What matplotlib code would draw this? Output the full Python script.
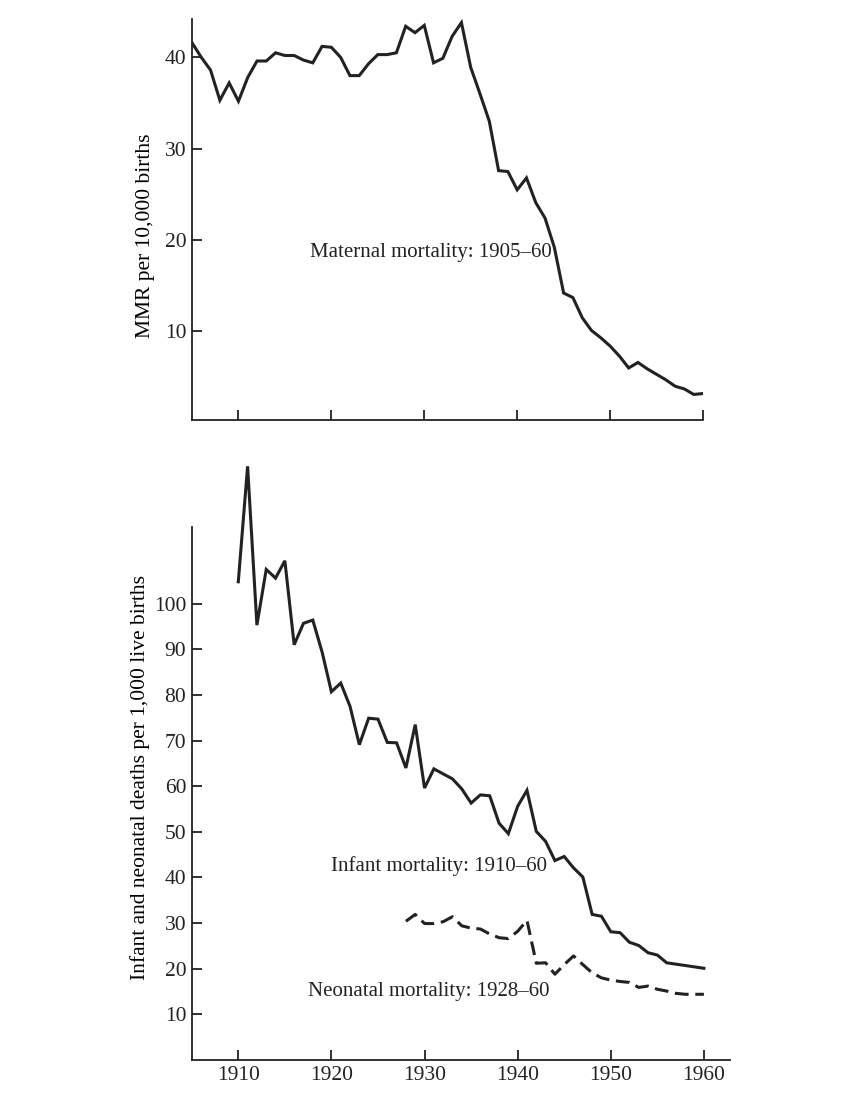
"""
Maternal, infant and neonatal mortality, 1905-60 (two stacked panels).
"""

import matplotlib
matplotlib.use("Agg")
import matplotlib.pyplot as plt

# maternal mortality rate per 10,000 births, 1905-1960
mmr_years = list(range(1905, 1961))
mmr = [41.6, 40.0, 38.6, 35.3, 37.2, 35.2, 37.8, 39.6, 39.6, 40.5,
       40.2, 40.2, 39.7, 39.4, 41.2, 41.1, 40.0, 38.0, 38.0, 39.3,
       40.3, 40.3, 40.5, 43.4, 42.7, 43.5, 39.4, 39.9, 42.3, 43.8,
       38.9, 36.0, 33.0, 27.6, 27.5, 25.5, 26.8, 24.1, 22.4, 19.2,
       14.2, 13.7, 11.5, 10.1, 9.3, 8.4, 7.3, 6.0, 6.6, 5.9,
       5.3, 4.7, 4.0, 3.7, 3.1, 3.2]

# infant deaths per 1,000 live births, 1910-1960
infant_years = list(range(1910, 1961))
infant = [104.8, 130.1, 95.3, 107.5, 105.6, 109.4, 91.0, 95.7, 96.4, 89.4,
          80.7, 82.6, 77.5, 69.1, 74.9, 74.7, 69.6, 69.5, 64.0, 73.5,
          59.6, 63.8, 62.7, 61.6, 59.4, 56.3, 58.1, 57.9, 51.9, 49.6,
          55.6, 59.1, 50.1, 47.9, 43.7, 44.6, 42.1, 40.1, 31.9, 31.5,
          28.1, 27.9, 25.8, 25.1, 23.5, 23.0, 21.3, 21.0, 20.7, 20.4, 20.1]

# neonatal deaths per 1,000 live births, 1928-1960
neonatal_years = list(range(1928, 1961))
neonatal = [30.4, 31.9, 29.9, 29.9, 30.3, 31.4, 29.4, 28.9, 28.7, 27.6,
            26.8, 26.6, 28.2, 30.6, 21.2, 21.3, 18.8, 20.9, 22.8, 20.9,
            19.1, 18.0, 17.5, 17.2, 17.0, 15.9, 16.2, 15.5, 15.1, 14.6,
            14.4, 14.4, 14.4]

x_ticks = [1910, 1920, 1930, 1940, 1950, 1960]
mmr_ticks = [10, 20, 30, 40]
infant_ticks = [10, 20, 30, 40, 50, 60, 70, 80, 90, 100]

plt.rcParams["font.family"] = ["Liberation Serif", "DejaVu Serif"]
INK = "#222222"


def style_axis(ax):
    for side in ("top", "right"):
        ax.spines[side].set_visible(False)
    for side in ("left", "bottom"):
        ax.spines[side].set_linewidth(1.3)
        ax.spines[side].set_color(INK)
    ax.tick_params(direction="in", length=7, width=1.3, colors=INK,
                   labelsize=15.5, pad=4)


fig = plt.figure(figsize=(8.59, 11.03), dpi=100)

# top panel: maternal mortality
ax1 = fig.add_axes([0.2235, 0.6192, 0.8184 - 0.2235, 0.9828 - 0.6192])
ax1.plot(mmr_years, mmr, color=INK, lw=2.2, solid_joinstyle="miter")
ax1.set_xlim(1905, 1960)
ax1.set_ylim(0.3, 44.2)
ax1.set_xticks(x_ticks)
ax1.set_xticklabels([])
ax1.set_yticks(mmr_ticks)
style_axis(ax1)
ax1.set_ylabel("MMR per 10,000 births", fontsize=15.5)
ax1.yaxis.set_label_coords(-0.072, 0.46)
ax1.text(1943.7, 18.6, "Maternal mortality: 1905\u201360", ha="right",
         va="center", fontsize=15, color=INK)

# bottom panel: infant and neonatal mortality
ax2 = fig.add_axes([0.2232, 0.039, 0.8498 - 0.2232, 0.5222 - 0.039])
ax2.plot(infant_years, infant, color=INK, lw=2.2, clip_on=False,
         solid_joinstyle="miter")
ax2.plot(neonatal_years, neonatal, color=INK, lw=2.2,
         linestyle=(0, (4.5, 2.2)), clip_on=False)
ax2.set_xlim(1905, 1962.8)
ax2.set_ylim(0, 116.8)
ax2.set_xticks(x_ticks)
ax2.set_yticks(infant_ticks)
style_axis(ax2)
ax2.set_ylabel("Infant and neonatal deaths per 1,000 live births",
               fontsize=15.5)
ax2.yaxis.set_label_coords(-0.078, 0.53)
ax2.text(1943.2, 42.4, "Infant mortality: 1910\u201360", ha="right",
         va="center", fontsize=15, color=INK)
ax2.text(1943.4, 15.0, "Neonatal mortality: 1928\u201360", ha="right",
         va="center", fontsize=15, color=INK)

fig.savefig("out.png", dpi=100, facecolor="white")
plt.close(fig)
